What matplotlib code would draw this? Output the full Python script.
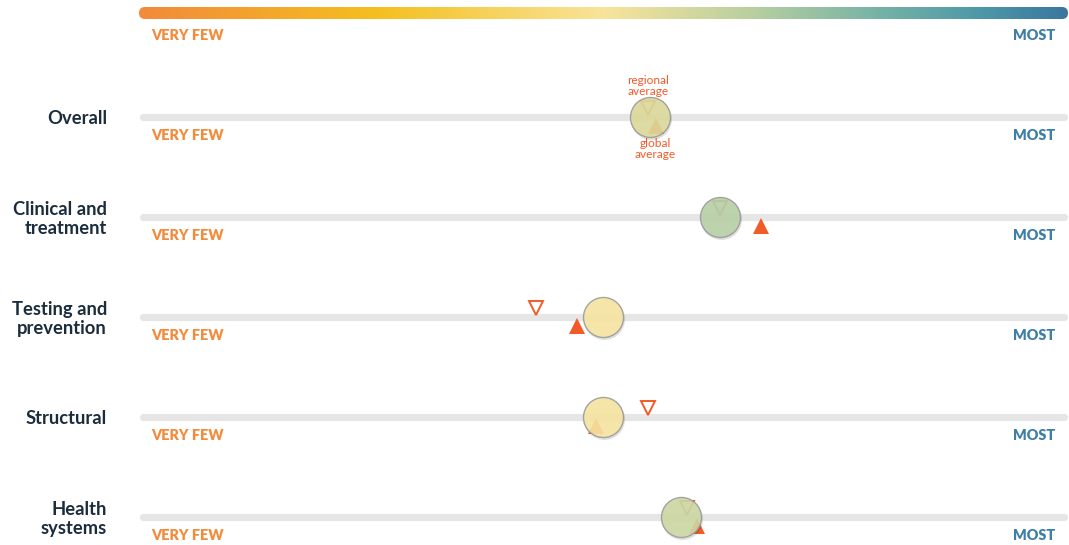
import numpy as np
import matplotlib.pyplot as plt
from matplotlib.colors import LinearSegmentedColormap
from matplotlib.patches import FancyBboxPatch

# Data (score on a 0-100 scale, "very few" -> "most")
categories = ["Overall", "Clinical and\ntreatment", "Testing and\nprevention",
              "Structural", "Health\nsystems"]
country_score = [55.0, 62.5, 49.9, 49.9, 58.3]
regional_avg = [54.8, 62.5, 42.7, 54.8, 59.0]
global_avg = [55.6, 67.0, 47.1, 49.2, 60.1]
circle_colors = ["#dedb9c", "#b9d2a9", "#f8e6a2", "#f8e6a2", "#cfd9a5"]

grad_stops = [(0.0, "#f28a3a"), (0.26, "#f5c020"), (0.50, "#f8e49a"),
              (0.66, "#b9cfa0"), (0.80, "#74b2a6"), (0.90, "#4f9aa8"),
              (1.0, "#3a76a0")]

ORANGE = "#f28c3c"
BLUE = "#3d7fa6"
RED = "#f25a28"
NAVY = "#1b2d3d"

plt.rcParams["font.family"] = ["Lato", "DejaVu Sans"]

W, H = 1069, 545
fig = plt.figure(figsize=(W / 100, H / 100), dpi=100)
ax = fig.add_axes([0, 0, 1, 1])
x0, x1 = 139, 1068
scale = 100 / (x1 - x0)
ax.set_xlim(-x0 * scale, 100 + (W - x1) * scale)
ax.set_ylim(H, 0)
ax.axis("off")

# Gradient header bar with rounded ends
cmap = LinearSegmentedColormap.from_list("scale", grad_stops)
grad = np.linspace(0, 1, 512).reshape(1, -1)
im = ax.imshow(grad, cmap=cmap, aspect="auto", extent=[0, 100, 19, 7], zorder=1)
r = 6 * scale
clip = FancyBboxPatch((0, 7), 100, 12,
                      boxstyle=f"round,pad=0,rounding_size={r}",
                      mutation_aspect=6 / r, transform=ax.transData,
                      facecolor="none", edgecolor="none")
ax.add_patch(clip)
im.set_clip_path(clip)

lab_kw = dict(fontsize=10.4, fontweight="heavy", va="center")
ax.text(1.3, 35, "VERY FEW", color=ORANGE, ha="left", **lab_kw)
ax.text(98.6, 35, "MOST", color=BLUE, ha="right", **lab_kw)

for i, cat in enumerate(categories):
    yc = 117 + 100 * i
    ax.plot([0.4, 99.6], [yc, yc], color="#e6e6e7", lw=5.2,
            solid_capstyle="round", zorder=1)
    ax.text(1.3, yc + 19, "VERY FEW", color=ORANGE, ha="left", **lab_kw)
    ax.text(98.6, yc + 19, "MOST", color=BLUE, ha="right", **lab_kw)
    ax.text((107 - x0) * scale, yc + 2, cat, color=NAVY, fontsize=13.2,
            fontweight="bold", ha="right", va="center", linespacing=1.12)

    # averages
    ax.plot(regional_avg[i], yc - 9, marker="v", ms=10.5, mfc="white",
            mec=RED, mew=1.4, zorder=3)
    ax.plot(global_avg[i], yc + 9, marker="^", ms=11, mfc=RED, mec=RED,
            mew=0, zorder=3)

    # country circle with a soft shadow
    ax.plot(country_score[i] + 0.12, yc + 1.5, marker="o", ms=29.5,
            mfc="#000000", mec="none", alpha=0.12, zorder=4)
    ax.plot(country_score[i], yc, marker="o", ms=28.8, mfc=circle_colors[i],
            mec="#9a9a9a", mew=1.0, alpha=0.9, zorder=5)

# annotations on the first row
ax.text(regional_avg[0], 86, "regional\naverage", color=RED, fontsize=8.6,
        ha="center", va="center", linespacing=1.1)
ax.text(global_avg[0], 149, "global\naverage", color=RED, fontsize=8.6,
        ha="center", va="center", linespacing=1.1)

fig.savefig("out.png", dpi=100)
